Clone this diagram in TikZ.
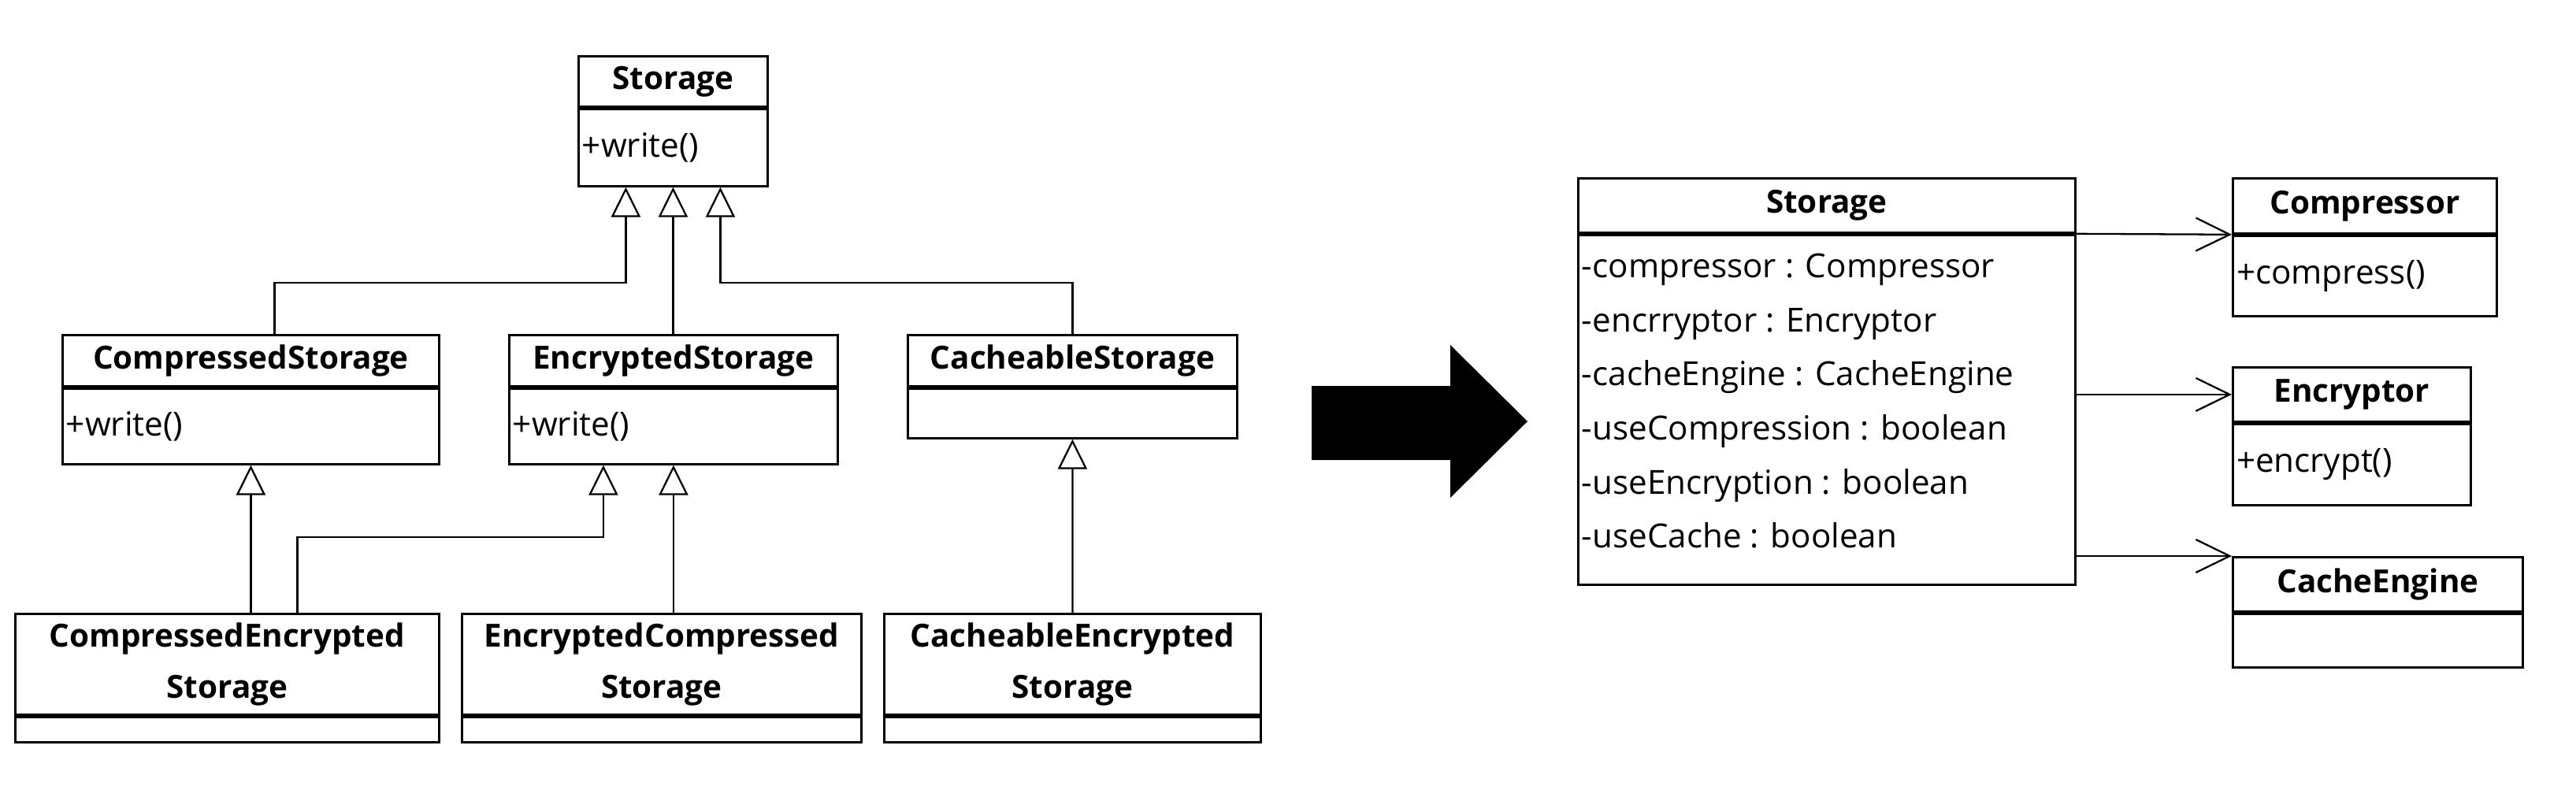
\documentclass[tikz,border=0pt]{standalone}
\usepackage{fontspec}
\setmainfont{Open Sans}
\usepackage{tikz}
\usetikzlibrary{arrows.meta}

\tikzset{
  head/.style={draw, line width=0.8pt, anchor=north west, inner sep=0pt, align=center,
    font=\fontsize{11.5}{18.5}\selectfont\bfseries},
  body/.style={draw, line width=0.8pt, anchor=north west, inner sep=0pt},
  memb/.style={anchor=west, inner xsep=1.5pt, inner ysep=0pt, align=left,
    font=\fontsize{12}{19.5}\selectfont},
  gen/.style={line width=0.65pt, -{Triangle[open, length=0.38cm, width=0.37cm, line width=0.65pt]}},
  assoc/.style={line width=0.65pt, -{Straight Barb[length=0.43cm, width=0.42cm, line width=0.65pt]}},
}

\begin{document}
\begin{tikzpicture}
	\useasboundingbox (0,0) rectangle (32.70,-10.30);

	% inheritance version
	\node[head, minimum width=2.40cm, minimum height=0.64cm] (st-h) at (7.33,-0.70) {Storage};
	\node[body, minimum width=2.40cm, minimum height=0.98cm] (st-b) at (st-h.south west) {};
	\node[memb] (st-m) at (st-b.west) {+write()};

	\node[head, minimum width=4.78cm, minimum height=0.65cm] (cs-h) at (0.78,-4.24) {CompressedStorage};
	\node[body, minimum width=4.78cm, minimum height=0.96cm] (cs-b) at (cs-h.south west) {};
	\node[memb] (cs-m) at (cs-b.west) {+write()};

	\node[head, minimum width=4.17cm, minimum height=0.65cm] (es-h) at (6.45,-4.24) {EncryptedStorage};
	\node[body, minimum width=4.17cm, minimum height=0.96cm] (es-b) at (es-h.south west) {};
	\node[memb] (es-m) at (es-b.west) {+write()};

	\node[head, minimum width=4.18cm, minimum height=0.65cm] (cas-h) at (11.51,-4.24) {CacheableStorage};
	\node[body, minimum width=4.18cm, minimum height=0.63cm] (cas-b) at (cas-h.south west) {};

	\node[head, minimum width=5.38cm, minimum height=1.28cm] (ces-h) at (0.18,-7.78) {CompressedEncrypted\\Storage};
	\node[body, minimum width=5.38cm, minimum height=0.32cm] (ces-b) at (ces-h.south west) {};

	\node[head, minimum width=5.07cm, minimum height=1.28cm] (ecs-h) at (5.85,-7.78) {EncryptedCompressed\\Storage};
	\node[body, minimum width=5.07cm, minimum height=0.32cm] (ecs-b) at (ecs-h.south west) {};

	\node[head, minimum width=4.78cm, minimum height=1.28cm] (cae-h) at (11.21,-7.78) {CacheableEncrypted\\Storage};
	\node[body, minimum width=4.78cm, minimum height=0.32cm] (cae-b) at (cae-h.south west) {};

	\draw[gen] ([xshift=3mm]cs-h.north) -- ++(0,0.65) -| ([xshift=-6mm]st-b.south);
	\draw[gen] (st-b.south |- es-h.north) -- (st-b.south);
	\draw[gen] (cas-h.north) -- ++(0,0.65) -| ([xshift=6mm]st-b.south);
	\draw[gen] (cs-b.south |- ces-h.north) -- (cs-b.south);
	\draw[gen] ([xshift=8.9mm]ces-h.north) -- ++(0,0.96) -| ([xshift=-8.9mm]es-b.south);
	\draw[gen] (es-b.south |- ecs-h.north) -- (es-b.south);
	\draw[gen] (cae-h.north) -- (cas-b.south);

	% big arrow
	\fill (16.65,-4.90) -- (18.41,-4.90) -- (18.41,-4.38) -- (19.39,-5.35)
		-- (18.41,-6.32) -- (18.41,-5.84) -- (16.65,-5.84) -- cycle;

	% composition version
	\node[head, minimum width=6.31cm, minimum height=0.69cm] (rs-h) at (20.02,-2.25) {Storage};
	\node[body, minimum width=6.31cm, minimum height=4.44cm] (rs-b) at (rs-h.south west) {};
	\node[memb] (rs-m) at ([yshift=1.1mm]rs-b.west) {-compressor : Compressor\\-encrryptor : Encryptor\\-cacheEngine : CacheEngine\\-useCompression : boolean\\-useEncryption : boolean\\-useCache : boolean};

	\node[head, minimum width=3.35cm, minimum height=0.70cm] (cp-h) at (28.33,-2.25) {Compressor};
	\node[body, minimum width=3.35cm, minimum height=1.02cm] (cp-b) at (cp-h.south west) {};
	\node[memb] (cp-m) at (cp-b.west) {+compress()};

	\node[head, minimum width=3.02cm, minimum height=0.69cm] (en-h) at (28.33,-4.65) {Encryptor};
	\node[body, minimum width=3.02cm, minimum height=1.03cm] (en-b) at (en-h.south west) {};
	\node[memb] (en-m) at (en-b.west) {+encrypt()};

	\node[head, minimum width=3.68cm, minimum height=0.69cm] (ce-h) at (28.33,-7.06) {CacheEngine};
	\node[body, minimum width=3.68cm, minimum height=0.68cm] (ce-b) at (ce-h.south west) {};

	\draw[assoc] (rs-h.south east) -- (cp-h.south west);
	\draw[assoc] (rs-b.east |- en-h.west) -- (en-h.west);
	\draw[assoc] (rs-b.east |- ce-h.north west) -- (ce-h.north west);
\end{tikzpicture}
\end{document}
